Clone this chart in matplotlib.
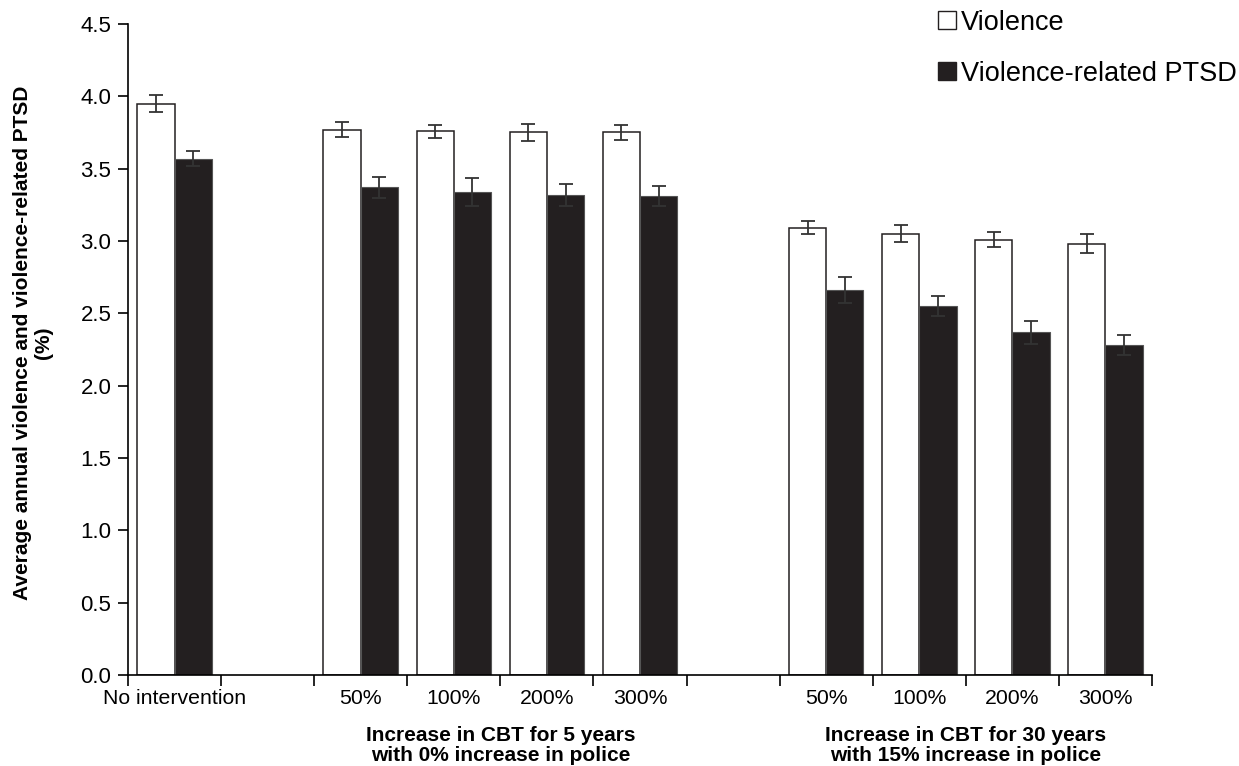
import matplotlib
matplotlib.use("Agg")
import matplotlib.pyplot as plt
from matplotlib.lines import Line2D
import numpy as np

plt.rcParams['font.family'] = ['Liberation Sans', 'DejaVu Sans']

# Scenario slots along the x axis ('' = empty spacer slot)
categories = ['No intervention', '', '50%', '100%', '200%', '300%',
              '', '50%', '100%', '200%', '300%']
violence = [3.95, None, 3.77, 3.76, 3.75, 3.75, None, 3.09, 3.05, 3.01, 2.98]
violence_err = [0.06, None, 0.05, 0.045, 0.06, 0.05, None, 0.045, 0.06, 0.05, 0.065]
ptsd = [3.57, None, 3.37, 3.34, 3.32, 3.31, None, 2.66, 2.55, 2.37, 2.28]
ptsd_err = [0.05, None, 0.075, 0.095, 0.075, 0.07, None, 0.09, 0.07, 0.08, 0.07]
group_labels = ['Increase in CBT for 5 years\nwith 0% increase in police',
                'Increase in CBT for 30 years\nwith 15% increase in police']
group_slots = [(2, 5), (7, 10)]
series_names = ['Violence', 'Violence-related PTSD']
ylabel = 'Average annual violence and violence-related PTSD\n(%)'

dark = '#231F20'

fig = plt.figure(figsize=(12.39, 7.66), dpi=100)
ax = fig.add_axes([0.1033, 0.1188, 0.8265, 0.8499])

idx = [i for i, v in enumerate(violence) if v is not None]
centers = np.array(idx) + 0.5
bw = 0.40
v_vals = [violence[i] for i in idx]
v_err = [violence_err[i] for i in idx]
p_vals = [ptsd[i] for i in idx]
p_err = [ptsd_err[i] for i in idx]

ax.bar(centers - bw / 2, v_vals, bw, color='white', edgecolor=dark, linewidth=1.1, zorder=2)
ax.bar(centers + bw / 2, p_vals, bw, color=dark, edgecolor='#555555', linewidth=0.8, zorder=2)
ax.errorbar(centers - bw / 2, v_vals, yerr=v_err, fmt='none', ecolor='#333333',
            elinewidth=1.3, capsize=5, capthick=1.3, zorder=3)
ax.errorbar(centers + bw / 2, p_vals, yerr=p_err, fmt='none', ecolor='#333333',
            elinewidth=1.3, capsize=5, capthick=1.3, zorder=3)

ax.set_xlim(0, len(categories))
ax.set_ylim(0, 4.5)
yt = np.arange(0, 4.51, 0.5)
ax.set_yticks(yt)
ax.set_yticklabels([f'{t:.1f}' for t in yt])

# labels at slot centres, tick marks at slot boundaries
ax.set_xticks(np.arange(len(categories)) + 0.5)
ax.set_xticklabels(categories)
ax.set_xticks(np.arange(len(categories) + 1), minor=True)
ax.tick_params(axis='x', which='major', length=0, pad=10, labelsize=15.3, colors='black')
ax.tick_params(axis='x', which='minor', length=8, width=1.2, direction='out')
ax.tick_params(axis='y', length=7, width=1.2, direction='out', pad=5, labelsize=16)

for s in ['top', 'right']:
    ax.spines[s].set_visible(False)
for s in ['left', 'bottom']:
    ax.spines[s].set_linewidth(1.2)

ax.set_ylabel(ylabel, fontsize=15, fontweight='bold', linespacing=1.15)
ax.yaxis.set_label_coords(-0.073, 0.51)

for (a, b), lab in zip(group_slots, group_labels):
    xc = (a + b + 1) / 2
    ax.text(xc, -0.35, lab, ha='center', va='top', fontsize=15, fontweight='bold',
            linespacing=1.12)

handles = [Line2D([], [], marker='s', linestyle='none', markersize=12.5,
                  markerfacecolor='white', markeredgecolor=dark, markeredgewidth=1.0),
           Line2D([], [], marker='s', linestyle='none', markersize=12.5,
                  markerfacecolor=dark, markeredgecolor=dark)]
fig.legend(handles, series_names, loc='upper left', bbox_to_anchor=(0.7405, 1.012),
           frameon=False, fontsize=19.5, handlelength=0.75, handletextpad=0.15,
           labelspacing=0.92, borderpad=0.2)

fig.savefig('out.png', dpi=100)
